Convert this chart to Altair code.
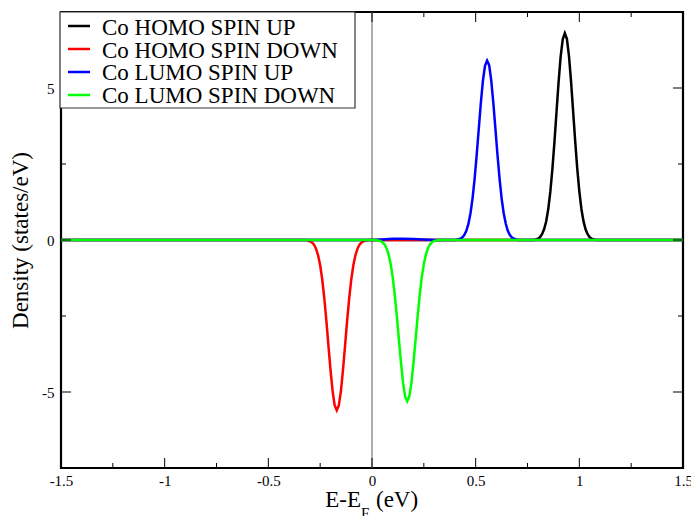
import altair as alt
import pandas as pd

# ---------------- data ----------------
series_names = ["Co HOMO SPIN UP", "Co HOMO SPIN DOWN", "Co LUMO SPIN UP", "Co LUMO SPIN DOWN"]
series_colors = ["#000000", "#ff0000", "#0000ff", "#00ff00"]

homo_up_x = [-1.5, 0.78, 0.79, 0.80, 0.81, 0.82, 0.83, 0.84, 0.85, 0.86, 0.87, 0.88, 0.89, 0.90,
             0.91, 0.92, 0.93, 0.94, 0.95, 0.96, 0.97, 0.98, 0.99, 1.00, 1.01, 1.02, 1.03, 1.04,
             1.05, 1.06, 1.07, 1.08, 1.5]
homo_up_y = [0, 0, 0.02, 0.04, 0.09, 0.19, 0.35, 0.61, 1.01, 1.58, 2.33, 3.23, 4.22, 5.20,
             6.04, 6.60, 6.80, 6.62, 6.06, 5.22, 4.24, 3.25, 2.35, 1.60, 1.02, 0.62, 0.35, 0.19,
             0.09, 0.04, 0.02, 0, 0]

homo_dn_x = [-1.5, -0.32, -0.31, -0.30, -0.29, -0.28, -0.27, -0.26, -0.25, -0.24, -0.23, -0.22,
             -0.21, -0.20, -0.19, -0.18, -0.17, -0.16, -0.15, -0.14, -0.13, -0.12, -0.11, -0.10,
             -0.09, -0.08, -0.07, -0.06, -0.05, -0.04, -0.03, -0.02, 1.5]
homo_dn_y = [0, 0, -0.02, -0.04, -0.08, -0.15, -0.29, -0.50, -0.83, -1.30, -1.92, -2.66,
             -3.48, -4.28, -4.97, -5.44, -5.60, -5.44, -4.97, -4.28, -3.48, -2.66, -1.92, -1.30,
             -0.83, -0.50, -0.29, -0.15, -0.08, -0.04, -0.02, 0, 0]

lumo_up_x = [-1.5, 0.00, 0.05, 0.10, 0.15, 0.20, 0.25, 0.30, 0.405, 0.415, 0.425, 0.435, 0.445,
             0.455, 0.465, 0.475, 0.485, 0.495, 0.505, 0.515, 0.525, 0.535, 0.545, 0.555, 0.565,
             0.575, 0.585, 0.595, 0.605, 0.615, 0.625, 0.635, 0.645, 0.655, 0.665, 0.675,
             0.685, 0.695, 0.705, 1.5]
lumo_up_y = [0, 0, 0.02, 0.04, 0.04, 0.03, 0.02, 0, 0, 0.02, 0.04, 0.08, 0.16,
             0.30, 0.53, 0.88, 1.37, 2.02, 2.80, 3.66, 4.51, 5.24, 5.73, 5.90, 5.75,
             5.26, 4.53, 3.68, 2.82, 2.04, 1.38, 0.89, 0.54, 0.30, 0.16, 0.08,
             0.04, 0.02, 0, 0]

lumo_dn_x = [-1.5, 0.02, 0.03, 0.04, 0.05, 0.06, 0.07, 0.08, 0.09, 0.10, 0.11, 0.12, 0.13, 0.14,
             0.15, 0.16, 0.17, 0.18, 0.19, 0.20, 0.21, 0.22, 0.23, 0.24, 0.25, 0.26, 0.27, 0.28,
             0.29, 0.30, 0.31, 0.32, 1.5]
lumo_dn_y = [0, 0, -0.02, -0.03, -0.07, -0.14, -0.27, -0.48, -0.79, -1.23, -1.82, -2.52, -3.29, -4.05,
             -4.71, -5.15, -5.30, -5.15, -4.71, -4.05, -3.29, -2.52, -1.82, -1.23, -0.79, -0.48, -0.27, -0.14,
             -0.07, -0.03, -0.02, 0, 0]

x_major = [-1.5, -1.0, -0.5, 0.0, 0.5, 1.0, 1.5]
x_minor = [-1.25, -0.75, -0.25, 0.25, 0.75, 1.25]
y_major = [-5, 0, 5]
y_minor = [-2.5, 2.5]

X_DOMAIN = [-1.5, 1.5]
Y_DOMAIN = [-7.5, 7.5]
W, H = 622, 456
SERIF = "Liberation Serif"

xs = alt.Scale(domain=X_DOMAIN, nice=False, zero=False)
ys = alt.Scale(domain=Y_DOMAIN, nice=False, zero=False)

series_xy = [(homo_up_x, homo_up_y), (homo_dn_x, homo_dn_y), (lumo_up_x, lumo_up_y), (lumo_dn_x, lumo_dn_y)]

layers = []

# vertical line at E_F
layers.append(
    alt.Chart(pd.DataFrame({"x": [0.0]})).mark_rule(color="#777777", strokeWidth=1.2)
    .encode(x=alt.X("x:Q", scale=xs), y=alt.value(0), y2=alt.value(H))
)

# the curves (green last, on top)
for (sx, sy), name, col in zip(series_xy, series_names, series_colors):
    df = pd.DataFrame({"x": sx, "y": sy, "i": range(len(sx))})
    layers.append(
        alt.Chart(df).mark_line(color=col, strokeWidth=2.5, strokeJoin="miter")
        .encode(
            x=alt.X("x:Q", scale=xs, axis=alt.Axis(
                values=x_major, tickSize=0, grid=False, domain=False, title=None,
                labelFont=SERIF, labelFontSize=15, labelColor="black", labelPadding=5,
                labelExpr="'' + datum.value", labelFlush=False)),
            y=alt.Y("y:Q", scale=ys, axis=alt.Axis(
                values=y_major, tickSize=0, grid=False, domain=False,
                title="Density (states/eV)", titleFont=SERIF, titleFontSize=23,
                titleFontWeight="normal", titleColor="black", titlePadding=9,
                labelFont=SERIF, labelFontSize=15, labelColor="black", labelPadding=7,
                labelExpr="'' + datum.value")),
            order="i:Q",
        )
    )

# inward ticks on all four sides
def xticks(vals, length, bottom=True):
    y0 = H if bottom else 0
    y1 = H - length if bottom else length
    return alt.Chart(pd.DataFrame({"x": vals})).mark_rule(color="black", strokeWidth=1).encode(
        x=alt.X("x:Q", scale=xs), y=alt.value(y0), y2=alt.value(y1))

def yticks(vals, length, left=True):
    x0 = 0 if left else W
    x1 = length if left else W - length
    return alt.Chart(pd.DataFrame({"y": vals})).mark_rule(color="black", strokeWidth=1).encode(
        y=alt.Y("y:Q", scale=ys), x=alt.value(x0), x2=alt.value(x1))

for b in (True, False):
    layers.append(xticks(x_major, 10, b))
    layers.append(xticks(x_minor, 5, b))
    layers.append(yticks(y_major, 10, b))
    layers.append(yticks(y_minor, 5, b))

# legend box
one = pd.DataFrame({"a": [0]})
layers.append(
    alt.Chart(one).mark_rect(fill="white", stroke="#333333", strokeWidth=1.2).encode(
        x=alt.value(-1), x2=alt.value(294), y=alt.value(0), y2=alt.value(96))
)
for k, (name, col) in enumerate(zip(series_names, series_colors)):
    layers.append(
        alt.Chart(one).mark_rule(color=col, strokeWidth=2.5).encode(
            x=alt.value(7), x2=alt.value(29), y=alt.value(14 + k * 23))
    )
    layers.append(
        alt.Chart(one).mark_text(text=name, font=SERIF, fontSize=23, align="left",
                                 baseline="alphabetic", color="black").encode(
            x=alt.value(41), y=alt.value(23 + k * 22.7))
    )

# x axis title with subscript
layers.append(alt.Chart(one).mark_text(text="E-E", font=SERIF, fontSize=23, align="right",
                                       baseline="alphabetic", color="black").encode(
    x=alt.value(300), y=alt.value(H + 39)))
layers.append(alt.Chart(one).mark_text(text="F", font=SERIF, fontSize=15, align="left",
                                       baseline="alphabetic", color="black").encode(
    x=alt.value(300), y=alt.value(H + 50)))
layers.append(alt.Chart(one).mark_text(text="(eV)", font=SERIF, fontSize=23, align="left",
                                       baseline="alphabetic", color="black").encode(
    x=alt.value(315), y=alt.value(H + 39)))

chart = alt.layer(*layers).properties(
    width=W, height=H,
    autosize=alt.AutoSizeParams(type="none"),
    padding={"left": 61, "top": 12, "right": 8, "bottom": 48},
).configure(
    background="white",
    view=alt.ViewConfig(stroke="black", strokeWidth=2.2),
)

chart.save("out.html", embed_options={"renderer": "svg", "actions": False})
